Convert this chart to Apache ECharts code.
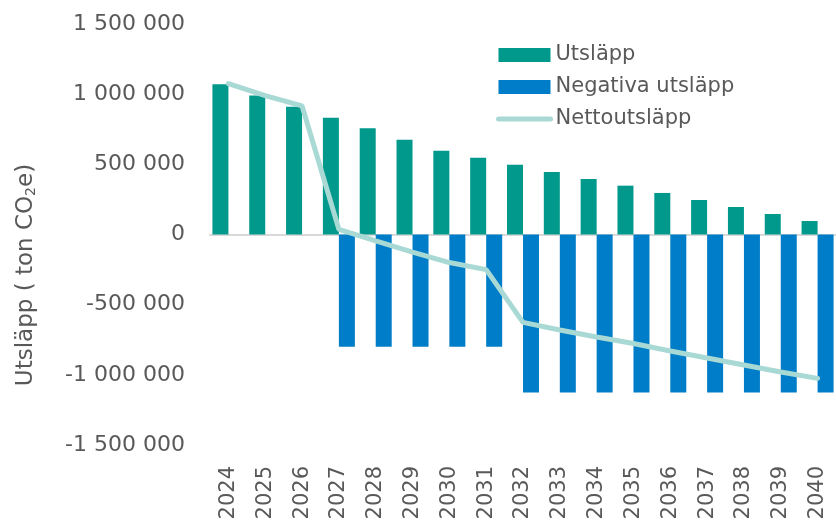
<!DOCTYPE html>
<html>
<head>
<meta charset="utf-8">
<script src="https://cdn.jsdelivr.net/npm/echarts@6/dist/echarts.min.js"></script>
<style>html,body{margin:0;padding:0;background:#fff}#c{width:836px;height:529px}</style>
</head>
<body>
<div id="c"></div>
<script>
var years = ['2024','2025','2026','2027','2028','2029','2030','2031','2032','2033','2034','2035','2036','2037','2038','2039','2040'];
var utslapp = [1070000, 990000, 911000, 832000, 757000, 676000, 597000, 547000, 497000, 445000, 395000, 348000, 296000, 246000, 196000, 146000, 96000];
var negativa = [null, null, null, -800000, -800000, -800000, -800000, -800000, -1125000, -1125000, -1125000, -1125000, -1125000, -1125000, -1125000, -1125000, -1125000];
var netto = [1075000, 990000, 916000, 37000, -45000, -125000, -200000, -250000, -626000, -680000, -730000, -777000, -830000, -880000, -930000, -980000, -1025000];
var yTicks = [-1500000, -1000000, -500000, 0, 500000, 1000000, 1500000];

var FONT = '"DejaVu Sans", sans-serif';
var GRAY = '#595959';
function fmt(v) {
  var s = Math.abs(v).toString().replace(/\B(?=(\d{3})+(?!\d))/g, ' ');
  return (v < 0 ? '-' : '') + s;
}
var chart = echarts.init(document.getElementById('c'));
chart.setOption({
  animation: false,
  grid: { left: 210, top: 24, width: 629, height: 421 },
  legend: {
    orient: 'vertical', left: 491, top: 39,
    itemWidth: 52, itemHeight: 14, itemGap: 10,
    textStyle: { color: GRAY, fontSize: 21, fontFamily: FONT, lineHeight: 22 },
    data: [
      { name: 'Utsläpp', icon: 'rect' },
      { name: 'Negativa utsläpp', icon: 'rect' },
      { name: 'Nettoutsläpp', itemStyle: { opacity: 0 }, lineStyle: { width: 5, cap: 'round' } }
    ]
  },
  xAxis: {
    type: 'category', data: years,
    axisLine: { onZero: true, lineStyle: { color: '#d9d9d9', width: 2 } },
    axisTick: { show: false },
    axisLabel: { rotate: 90, color: GRAY, fontSize: 21, fontFamily: FONT, margin: 21 }
  },
  yAxis: {
    type: 'value', min: -1500000, max: 1500000, interval: 500000,
    axisLine: { show: false }, axisTick: { show: false }, splitLine: { show: false },
    axisLabel: {
      color: GRAY, fontSize: 22, fontFamily: FONT, margin: 25,
      formatter: function (v) { return yTicks.indexOf(v) >= 0 ? fmt(v) : ''; }
    }
  },
  graphic: [{
    type: 'text', x: 26, y: 275, rotation: Math.PI / 2,
    style: {
      text: '{a|Utsläpp ( ton CO}{s|2}{a|e)}',
      align: 'center', verticalAlign: 'middle',
      rich: {
        a: { fontSize: 23, fontFamily: FONT, fill: GRAY, color: GRAY },
        s: { fontSize: 14, fontFamily: FONT, fill: GRAY, color: GRAY, padding: [10, 0, 0, 0] }
      }
    }
  }],
  series: [
    { name: 'Utsläpp', type: 'bar', data: utslapp, barWidth: 16, barGap: '0%',
      itemStyle: { color: '#00998c' } },
    { name: 'Negativa utsläpp', type: 'bar', data: negativa, barWidth: 16, barGap: '0%',
      itemStyle: { color: '#007dc8' } },
    { name: 'Nettoutsläpp', type: 'line', data: netto, symbol: 'none', z: 5,
      lineStyle: { color: '#a8d9d4', width: 5, cap: 'round' }, itemStyle: { color: '#a8d9d4' } }
  ]
});
</script>
</body>
</html>
